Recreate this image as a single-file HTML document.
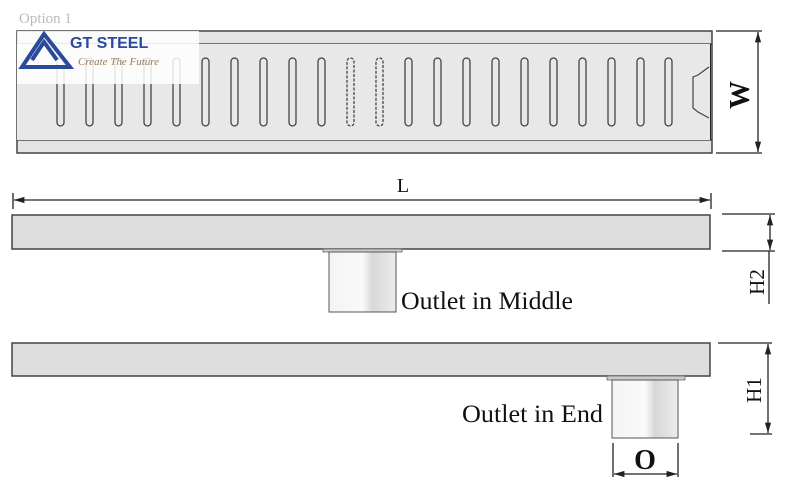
<!DOCTYPE html>
<html><head><style>
html,body{margin:0;padding:0;background:#fff;width:800px;height:500px;overflow:hidden}
</style></head><body>
<svg width="800" height="500" viewBox="0 0 800 500" xmlns="http://www.w3.org/2000/svg" font-family="Liberation Serif, serif">
<defs>
<linearGradient id="cyl" x1="0" x2="1">
<stop offset="0" stop-color="#f4f4f4"/><stop offset="0.5" stop-color="#fafafa"/><stop offset="0.65" stop-color="#d8d8d8"/><stop offset="1" stop-color="#ececec"/>
</linearGradient>
<marker id="a" viewBox="0 0 10 10" refX="10" refY="5" markerWidth="8" markerHeight="8" orient="auto-start-reverse"><path d="M0,2 L10,5 L0,8 z" fill="#222"/></marker>
</defs>
<text x="19" y="23" font-size="15" fill="#bbb">Option 1</text>
<rect x="17" y="31" width="695" height="122" fill="#e4e4e4" stroke="#444" stroke-width="1.5"/>
<line x1="17" y1="44" x2="712" y2="44" stroke="#333" stroke-width="1.3"/>
<line x1="17" y1="140" x2="712" y2="140" stroke="#333" stroke-width="1.3"/>
<line x1="18" y1="44" x2="18" y2="140" stroke="#222" stroke-width="2"/>
<line x1="710" y1="44" x2="710" y2="140" stroke="#222" stroke-width="2"/>
<rect x="17" y="44" width="693" height="96" fill="#e8e8e8"/>
<g fill="#e8e8e8" stroke="#444" stroke-width="1.3">
<rect x="57" y="58" width="7" height="68" rx="3.5"/><rect x="86" y="58" width="7" height="68" rx="3.5"/><rect x="115" y="58" width="7" height="68" rx="3.5"/><rect x="144" y="58" width="7" height="68" rx="3.5"/><rect x="173" y="58" width="7" height="68" rx="3.5"/><rect x="202" y="58" width="7" height="68" rx="3.5"/><rect x="231" y="58" width="7" height="68" rx="3.5"/><rect x="260" y="58" width="7" height="68" rx="3.5"/><rect x="289" y="58" width="7" height="68" rx="3.5"/><rect x="318" y="58" width="7" height="68" rx="3.5"/>
<rect x="347" y="58" width="7" height="68" rx="3.5" stroke-dasharray="3 1.5"/><rect x="376" y="58" width="7" height="68" rx="3.5" stroke-dasharray="3 1.5"/>
<rect x="405" y="58" width="7" height="68" rx="3.5"/><rect x="434" y="58" width="7" height="68" rx="3.5"/><rect x="463" y="58" width="7" height="68" rx="3.5"/><rect x="492" y="58" width="7" height="68" rx="3.5"/><rect x="521" y="58" width="7" height="68" rx="3.5"/><rect x="550" y="58" width="7" height="68" rx="3.5"/><rect x="579" y="58" width="7" height="68" rx="3.5"/><rect x="608" y="58" width="7" height="68" rx="3.5"/><rect x="637" y="58" width="7" height="68" rx="3.5"/><rect x="665" y="58" width="7" height="68" rx="3.5"/>
</g>
<path d="M709,67 L698,75 L693,77 L693,108 L698,112 L709,118" fill="none" stroke="#444" stroke-width="1.2"/>
<rect x="17" y="31" width="182" height="53" fill="#fff" fill-opacity="0.85"/>
<path d="M22,67 L44,34 L70,67 Z M32,60 L44,42 L57,60" fill="none" stroke="#2a4a9a" stroke-width="4"/>
<text x="70" y="48" font-family="Liberation Sans, sans-serif" font-weight="bold" font-size="16" fill="#2a4a9a">GT STEEL</text>
<text x="78" y="65" font-size="11" font-style="italic" fill="#9a7a5a">Create The Future</text>
<g stroke="#222" stroke-width="1.3" fill="none">
<line x1="716" y1="31" x2="762" y2="31"/><line x1="716" y1="153" x2="762" y2="153"/>
<line x1="758" y1="32" x2="758" y2="152" marker-start="url(#a)" marker-end="url(#a)"/>
<line x1="13" y1="193" x2="13" y2="209"/><line x1="711" y1="193" x2="711" y2="209"/>
<line x1="14" y1="200" x2="710" y2="200" marker-start="url(#a)" marker-end="url(#a)"/>
<line x1="722" y1="214" x2="775" y2="214"/><line x1="722" y1="251" x2="775" y2="251"/>
<line x1="770" y1="215" x2="770" y2="250" marker-start="url(#a)" marker-end="url(#a)"/>
<line x1="769" y1="251" x2="769" y2="304"/>
<line x1="718" y1="343" x2="772" y2="343"/><line x1="750" y1="434" x2="772" y2="434"/>
<line x1="768" y1="344" x2="768" y2="433" marker-start="url(#a)" marker-end="url(#a)"/>
<line x1="613" y1="443" x2="613" y2="477"/><line x1="678" y1="443" x2="678" y2="477"/>
<line x1="614" y1="474" x2="677" y2="474" marker-start="url(#a)" marker-end="url(#a)"/>
</g>
<text font-size="28" font-weight="bold" transform="translate(749,95) rotate(-90)" text-anchor="middle" fill="#111">W</text>
<text x="403" y="192" font-size="20" text-anchor="middle" fill="#111">L</text>
<text font-size="21" transform="translate(764,282) rotate(-90)" text-anchor="middle" fill="#111">H2</text>
<text font-size="21" transform="translate(761,390) rotate(-90)" text-anchor="middle" fill="#111">H1</text>
<text x="645" y="469" font-size="28" font-weight="bold" text-anchor="middle" fill="#111">O</text>
<rect x="12" y="215" width="698" height="34" fill="#dedede" stroke="#444" stroke-width="1.5"/>
<rect x="323" y="249" width="79" height="3" fill="#ccc" stroke="#666" stroke-width="0.8"/>
<rect x="329" y="252" width="67" height="60" fill="url(#cyl)" stroke="#555" stroke-width="1"/>
<text x="401" y="309" font-size="25" fill="#111" textLength="172" lengthAdjust="spacingAndGlyphs">Outlet in Middle</text>
<rect x="12" y="343" width="698" height="33" fill="#dedede" stroke="#444" stroke-width="1.5"/>
<rect x="607" y="376" width="78" height="4" fill="#ccc" stroke="#666" stroke-width="0.8"/>
<rect x="612" y="380" width="66" height="58" fill="url(#cyl)" stroke="#555" stroke-width="1"/>
<text x="462" y="422" font-size="25" fill="#111" textLength="141" lengthAdjust="spacingAndGlyphs">Outlet in End</text>
</svg>
</body></html>
